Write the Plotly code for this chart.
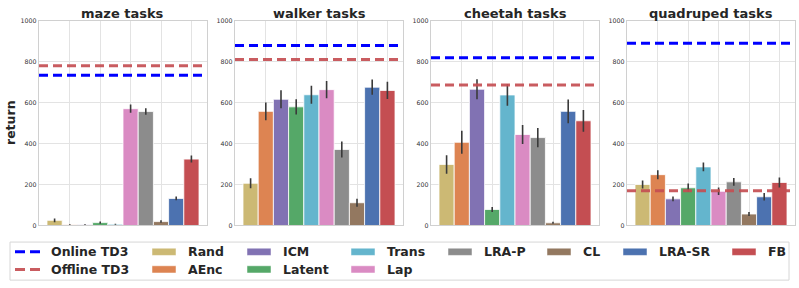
import plotly.graph_objects as go

# ---------------- data ----------------
methods = ["Rand", "AEnc", "ICM", "Latent", "Trans", "Lap", "LRA-P", "CL", "LRA-SR", "FB"]
colors = ["#CCB974", "#DD8452", "#8172B3", "#55A868", "#64B5CD",
          "#DA8BC3", "#8C8C8C", "#937860", "#4C72B0", "#C44E52"]
tasks = ["maze tasks", "walker tasks", "cheetah tasks", "quadruped tasks"]

maze_vals = [25, 4, 4, 14, 6, 570, 556, 19, 132, 324]
maze_err = [9, 2, 2, 5, 2, 20, 16, 6, 9, 17]
walker_vals = [206, 557, 616, 579, 638, 663, 371, 111, 675, 659]
walker_err = [24, 43, 44, 37, 44, 42, 39, 19, 37, 42]
cheetah_vals = [298, 406, 665, 78, 637, 444, 429, 13, 557, 511]
cheetah_err = [45, 56, 49, 12, 53, 46, 47, 5, 58, 53]
quad_vals = [200, 248, 130, 184, 286, 167, 213, 56, 140, 210]
quad_err = [20, 22, 12, 21, 21, 18, 19, 10, 18, 24]

online_td3 = [733, 878, 819, 890]
offline_td3 = [780, 810, 686, 170]

y_ticks = [0, 200, 400, 600, 800, 1000]
baseline_names = ["Online TD3", "Offline TD3"]
baseline_colors = ["#0000FF", "rgba(196,78,82,0.92)"]

all_vals = [maze_vals, walker_vals, cheetah_vals, quad_vals]
all_errs = [maze_err, walker_err, cheetah_err, quad_err]

# ---------------- layout geometry ----------------
W, H = 799, 288
panels_px = [(39, 207), (235, 403), (431, 599), (627, 795)]
top_px, bot_px = 17, 227
FONT = "DejaVu Sans"
TXT = "#262626"

fig = go.Figure()
layout = dict(
    width=W, height=H,
    margin=dict(l=0, r=0, t=0, b=0),
    paper_bgcolor="white", plot_bgcolor="white",
    showlegend=False,
    font=dict(family=FONT, color=TXT),
)

annotations = []
shapes = []

for i, (task, vals, errs) in enumerate(zip(tasks, all_vals, all_errs)):
    k = "" if i == 0 else str(i + 1)
    xa, ya = "x" + k, "y" + k
    fig.add_trace(go.Bar(
        x=methods, y=vals,
        marker=dict(color=colors, line=dict(color="white", width=0.8)),
        width=1.0,
        error_y=dict(type="data", array=errs, color="#3a3a3a", thickness=1.6, width=0),
        xaxis=xa, yaxis=ya, showlegend=False,
    ))
    x0p, x1p = panels_px[i]
    layout["xaxis" + k] = dict(
        domain=[x0p / W, x1p / W], anchor=ya,
        type="category", categoryorder="array", categoryarray=methods,
        range=[-1.026, len(methods) - 1 + 1.026],
        tickvals=[methods[j] for j in (1, 3, 5, 7, 9)],
        showticklabels=False, ticks="",
        showgrid=True, gridcolor="#e3e3e3", gridwidth=1,
        showline=True, mirror=True, linecolor="#d0d0d0", linewidth=1.2,
        zeroline=False, fixedrange=True,
    )
    layout["yaxis" + k] = dict(
        domain=[1 - bot_px / H, 1 - top_px / H], anchor=xa,
        range=[0, 1000], tickvals=y_ticks, ticktext=[str(t) for t in y_ticks],
        ticks="", tickfont=dict(size=6.3, color="#333333", family=FONT),
        showgrid=True, gridcolor="#e3e3e3", gridwidth=1,
        showline=True, mirror=True, linecolor="#d0d0d0", linewidth=1.2,
        zeroline=False, fixedrange=True,
    )
    for name, val, col in zip(baseline_names, [online_td3[i], offline_td3[i]], baseline_colors):
        shapes.append(dict(type="line", xref=xa + " domain", yref=ya,
                           x0=0, x1=1, y0=val, y1=val,
                           line=dict(color=col, width=3, dash="9px,5px"), layer="above"))
    annotations.append(dict(
        text=task, xref="paper", yref="paper",
        x=(x0p + x1p) / 2 / W, y=1 - 9.5 / H, xanchor="center", yanchor="middle",
        showarrow=False, font=dict(size=13, family=FONT, color=TXT, weight="bold"),
    ))

annotations.append(dict(
    text="return", xref="paper", yref="paper",
    x=10 / W, y=1 - ((top_px + bot_px) / 2) / H, xanchor="center", yanchor="middle",
    textangle=-90, showarrow=False, font=dict(size=12.5, family=FONT, color=TXT, weight="bold"),
))

# ---------------- legend (drawn manually) ----------------
shapes.append(dict(type="rect", xref="paper", yref="paper",
                   x0=10 / W, x1=789 / W, y0=1 - 283 / H, y1=1 - 244 / H,
                   line=dict(color="#d6d6d6", width=1), fillcolor="white", layer="below"))

entries = [(n, "line", c) for n, c in zip(baseline_names, baseline_colors)] + \
          [(n, "bar", c) for n, c in zip(methods, colors)]
col_sizes = [2, 2, 2, 2, 1, 1, 1, 1]
col_x = [15, 152, 247, 351, 448, 547, 623, 732]
row_y = [254, 272]
idx = 0
for c, size in enumerate(col_sizes):
    for r in range(size):
        name, kind, colr = entries[idx]
        idx += 1
        hx, hy = col_x[c], row_y[r]
        if kind == "line":
            shapes.append(dict(type="line", xref="paper", yref="paper",
                               x0=hx / W, x1=(hx + 25) / W, y0=1 - hy / H, y1=1 - hy / H,
                               line=dict(color=colr, width=3, dash="10px,5px")))
        else:
            shapes.append(dict(type="rect", xref="paper", yref="paper",
                               x0=hx / W, x1=(hx + 24) / W,
                               y0=1 - (hy + 3.7) / H, y1=1 - (hy - 3.7) / H,
                               line=dict(color="white", width=0.5), fillcolor=colr))
        annotations.append(dict(
            text=name, xref="paper", yref="paper",
            x=(hx + 34) / W, y=1 - hy / H, xanchor="left", yanchor="middle",
            showarrow=False, font=dict(size=12.5, family=FONT, color=TXT, weight="bold"),
        ))

layout["annotations"] = annotations
layout["shapes"] = shapes
fig.update_layout(**layout)
fig.write_html("out.html",
               config={"displayModeBar": False},
               post_script="document.body.style.margin='0';document.body.style.overflow='hidden';")
